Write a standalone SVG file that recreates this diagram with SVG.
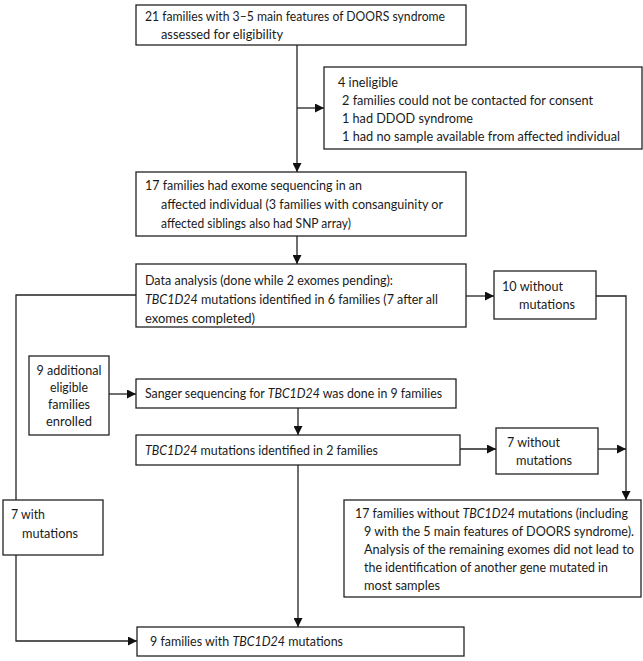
<svg xmlns="http://www.w3.org/2000/svg" width="643" height="661" viewBox="0 0 643 661">
<defs>
<style>
.box{fill:#fff;stroke:#222;stroke-width:1.3}
.t{font-family:Lato,"Liberation Sans",sans-serif;font-size:14px;fill:#1a1a1a}
.i{font-style:italic}
.c{fill:none;stroke:#222;stroke-width:1.3}
</style>
<marker id="a" viewBox="0 0 10 10" refX="10" refY="5" markerUnits="userSpaceOnUse" markerWidth="9" markerHeight="9" orient="auto">
<path d="M0,0 L10,5 L0,10 z" fill="#111"/>
</marker>
</defs>
<rect width="643" height="661" fill="#fff"/>
<g id="connectors">
<path class="c" d="M297,45 V172" marker-end="url(#a)"/>
<path class="c" d="M297,108 H324" marker-end="url(#a)"/>
<path class="c" d="M297,236 V264" marker-end="url(#a)"/>
<path class="c" d="M466,296 H494" marker-end="url(#a)"/>
<path class="c" d="M596,296 H626 V500" marker-end="url(#a)"/>
<path class="c" d="M136,295 H16 V500"/>
<path class="c" d="M16,555 V641 H137" marker-end="url(#a)"/>
<path class="c" d="M109,394 H136" marker-end="url(#a)"/>
<path class="c" d="M298,408 V435" marker-end="url(#a)"/>
<path class="c" d="M460,449 H496" marker-end="url(#a)"/>
<path class="c" d="M598,449 H626" marker-end="url(#a)"/>
<path class="c" d="M298,465 V627" marker-end="url(#a)"/>
</g>
<g id="n1">
<rect class="box" x="136" y="5" width="330" height="40"/>
<text class="t" x="145" y="21" textLength="300" lengthAdjust="spacingAndGlyphs">21 families with 3–5 main features of DOORS syndrome</text>
<text class="t" x="161" y="39" textLength="122" lengthAdjust="spacingAndGlyphs">assessed for eligibility</text>
</g>
<g id="n2">
<rect class="box" x="324" y="67" width="318" height="82"/>
<text class="t" x="338" y="87" textLength="60" lengthAdjust="spacingAndGlyphs">4 ineligible</text>
<text class="t" x="342" y="105" textLength="251" lengthAdjust="spacingAndGlyphs">2 families could not be contacted for consent</text>
<text class="t" x="342" y="123" textLength="131" lengthAdjust="spacingAndGlyphs">1 had DDOD syndrome</text>
<text class="t" x="342" y="141" textLength="278" lengthAdjust="spacingAndGlyphs">1 had no sample available from affected individual</text>
</g>
<g id="n3">
<rect class="box" x="136" y="172" width="330" height="64"/>
<text class="t" x="145" y="190" textLength="217" lengthAdjust="spacingAndGlyphs">17 families had exome sequencing in an</text>
<text class="t" x="161" y="209" textLength="282" lengthAdjust="spacingAndGlyphs">affected individual (3 families with consanguinity or</text>
<text class="t" x="161" y="228" textLength="190" lengthAdjust="spacingAndGlyphs">affected siblings also had SNP array)</text>
</g>
<g id="n4">
<rect class="box" x="136" y="264" width="330" height="63"/>
<text class="t" x="145" y="285" textLength="248" lengthAdjust="spacingAndGlyphs">Data analysis (done while 2 exomes pending):</text>
<text class="t" x="145" y="304" textLength="293" lengthAdjust="spacingAndGlyphs"><tspan class="i">TBC1D24</tspan> mutations identified in 6 families (7 after all</text>
<text class="t" x="145" y="323" textLength="110" lengthAdjust="spacingAndGlyphs">exomes completed)</text>
</g>
<g id="n5">
<rect class="box" x="494" y="271" width="102" height="48"/>
<text class="t" x="502" y="291" textLength="61" lengthAdjust="spacingAndGlyphs">10 without</text>
<text class="t" x="519" y="309" textLength="56" lengthAdjust="spacingAndGlyphs">mutations</text>
</g>
<g id="n6">
<rect class="box" x="29" y="356" width="80" height="79"/>
<text class="t" x="69" y="375" text-anchor="middle" textLength="65" lengthAdjust="spacingAndGlyphs">9 additional</text>
<text class="t" x="69" y="392" text-anchor="middle" textLength="38" lengthAdjust="spacingAndGlyphs">eligible</text>
<text class="t" x="69" y="409" text-anchor="middle" textLength="42" lengthAdjust="spacingAndGlyphs">families</text>
<text class="t" x="69" y="426" text-anchor="middle" textLength="46" lengthAdjust="spacingAndGlyphs">enrolled</text>
</g>
<g id="n7">
<rect class="box" x="136" y="379" width="320" height="29"/>
<text class="t" x="145" y="398" textLength="297" lengthAdjust="spacingAndGlyphs">Sanger sequencing for <tspan class="i">TBC1D24</tspan> was done in 9 families</text>
</g>
<g id="n8">
<rect class="box" x="136" y="435" width="324" height="30"/>
<text class="t" x="145" y="455" textLength="233" lengthAdjust="spacingAndGlyphs"><tspan class="i">TBC1D24</tspan> mutations identified in 2 families</text>
</g>
<g id="n9">
<rect class="box" x="496" y="428" width="102" height="46"/>
<text class="t" x="507" y="447" textLength="53" lengthAdjust="spacingAndGlyphs">7 without</text>
<text class="t" x="516" y="465" textLength="56" lengthAdjust="spacingAndGlyphs">mutations</text>
</g>
<g id="n10">
<rect class="box" x="3" y="500" width="100" height="55"/>
<text class="t" x="11" y="519" textLength="34" lengthAdjust="spacingAndGlyphs">7 with</text>
<text class="t" x="22" y="538" textLength="56" lengthAdjust="spacingAndGlyphs">mutations</text>
</g>
<g id="n11">
<rect class="box" x="344" y="500" width="297" height="97"/>
<text class="t" x="355" y="518" textLength="273" lengthAdjust="spacingAndGlyphs">17 families without <tspan class="i">TBC1D24</tspan> mutations (including</text>
<text class="t" x="364" y="536" textLength="270" lengthAdjust="spacingAndGlyphs">9 with the 5 main features of DOORS syndrome).</text>
<text class="t" x="364" y="554" textLength="270" lengthAdjust="spacingAndGlyphs">Analysis of the remaining exomes did not lead to</text>
<text class="t" x="364" y="572" textLength="244" lengthAdjust="spacingAndGlyphs">the identification of another gene mutated in</text>
<text class="t" x="364" y="590" textLength="76" lengthAdjust="spacingAndGlyphs">most samples</text>
</g>
<g id="n12">
<rect class="box" x="137" y="627" width="327" height="29"/>
<text class="t" x="150" y="646" textLength="193" lengthAdjust="spacingAndGlyphs">9 families with <tspan class="i">TBC1D24</tspan> mutations</text>
</g>
</svg>
